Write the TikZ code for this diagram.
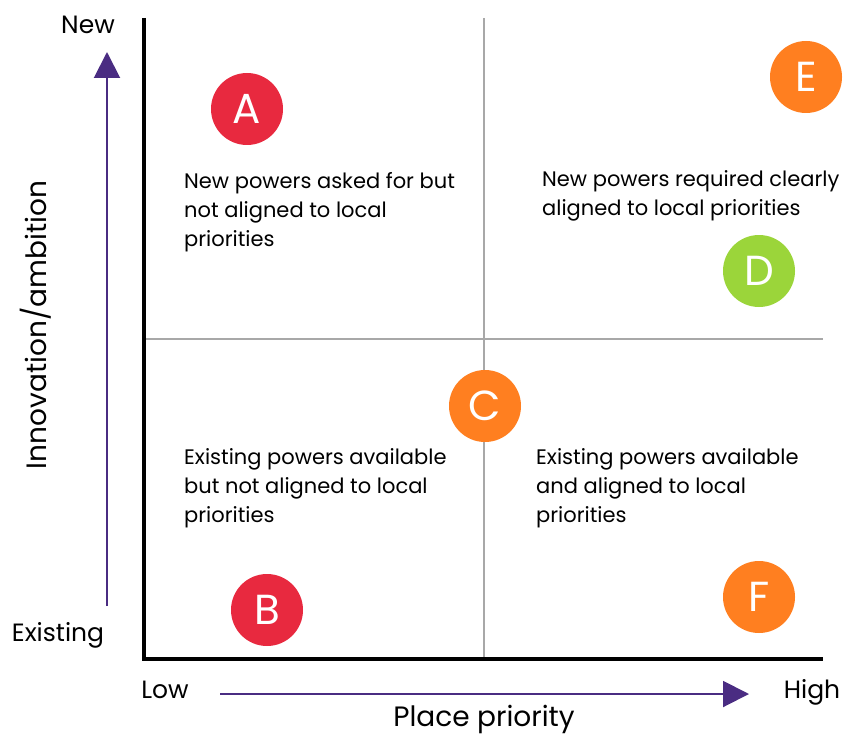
\documentclass[tikz,border=0pt]{standalone}
\usepackage{fontspec}
\setmainfont{Poppins}
\usetikzlibrary{arrows.meta}

\definecolor{quadred}{HTML}{E8293F}
\definecolor{quadorange}{HTML}{FF7F20}
\definecolor{quadgreen}{HTML}{9BD53A}
\definecolor{axispurple}{HTML}{4A2C82}
\definecolor{gridgray}{HTML}{A8A8A8}

\tikzset{
    letter/.style={circle, minimum size=72pt, inner sep=0pt, text=white, font=\fontsize{42}{42}\selectfont},
    quadtext/.style={anchor=base west, align=left, inner sep=0pt, font=\fontsize{21}{29}\selectfont},
    axislabel/.style={font=\fontsize{25}{25}\selectfont},
    axisname/.style={font=\fontsize{28}{28}\selectfont},
    purplearrow/.style={axispurple, line width=2pt, -{Triangle[length=26pt, width=26pt]}},
}

\begin{document}
\begin{tikzpicture}[x=1pt, y=-1pt]
        \useasboundingbox (0,0) rectangle (845,738);

        \coordinate (top) at (144,18);
        \coordinate (origin) at (144,659);
        \coordinate (right) at (823,659);
        \coordinate (midtop) at (484,18);
        \coordinate (midbottom) at (484,659);
        \coordinate (midleft) at (144,339);
        \coordinate (midright) at (823,339);

        \draw [gridgray, line width=1.5pt] (midtop)--(midbottom); % Vertical split
        \draw [gridgray, line width=1.5pt] (midleft)--(midright); % Horizontal split
        \draw [line width=4pt] (top)--(origin)--(right);

        \coordinate (upstart) at (107,606);
        \coordinate (upend) at (107,52);
        \coordinate (rightstart) at (220,694);
        \coordinate (rightend) at (749,694);
        \draw [purplearrow] (upstart)--(upend); % Up
        \draw [purplearrow] (rightstart)--(rightend); % Right

        \node [axislabel] (new) at (88,25) {New};
        \node [axislabel] (existing) at (58,635) {Existing};
        \node [axislabel] (low) at (165,690) {Low};
        \node [axislabel] (high) at (812,692) {High};
        \node [axisname] (xname) at (484,719) {Place priority};
        \node [axisname, rotate=90] (yname) at (36,325) {Innovation/ambition};

        % the base anchor sits on the last line
        \node [quadtext] (tl) at (184,246) {New powers asked for but\\not aligned to local\\priorities};
        \node [quadtext] (tr) at (542,215) {New powers required clearly\\aligned to local priorities};
        \node [quadtext] (bl) at (184,522) {Existing powers available\\but not aligned to local\\priorities};
        \node [quadtext] (br) at (536,522) {Existing powers available\\and aligned to local\\priorities};

        \node [letter, fill=quadred] (A) at (247,109) {A};
        \node [letter, fill=quadred] (B) at (267,610) {B};
        \node [letter, fill=quadorange] (C) at (485,406) {C};
        \node [letter, fill=quadgreen] (D) at (759,271) {D};
        \node [letter, fill=quadorange] (E) at (806,77) {E};
        \node [letter, fill=quadorange] (F) at (759,597) {F};
    \end{tikzpicture}
\end{document}
